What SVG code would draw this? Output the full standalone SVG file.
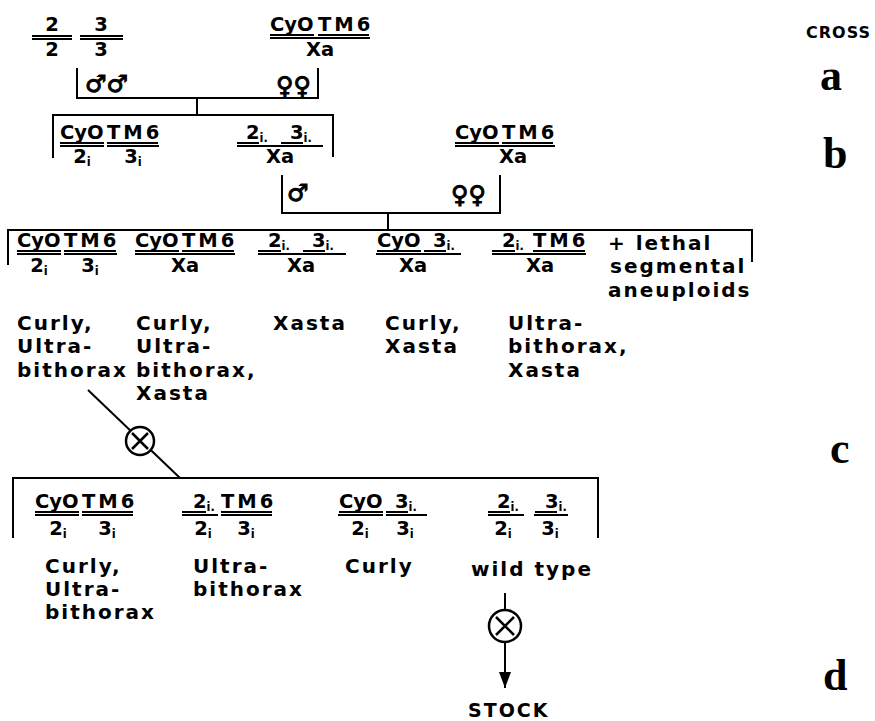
<svg xmlns="http://www.w3.org/2000/svg" width="875" height="721" viewBox="0 0 875 721">
<style>
text{font-family:"DejaVu Sans",sans-serif;font-weight:bold;fill:#000}
.g{font-size:19.5px}
.tm{letter-spacing:3px}
.lb{font-size:20px;letter-spacing:2px}
.sub{font-size:11.5px;letter-spacing:0}
.sym{font-size:24px;stroke:#000;stroke-width:1}
.cr{font-size:16px;letter-spacing:1px}
.big{font-family:"Liberation Serif",serif;font-size:44px}
.ln{stroke:#000;stroke-width:2;fill:none}
.x{stroke:#000;stroke-width:2.5;fill:none}
line{stroke:#000;stroke-width:2}
</style>
<defs>
<marker id="ah" viewBox="0 0 16 12" refX="16" refY="6" markerWidth="16" markerHeight="12" markerUnits="userSpaceOnUse" orient="auto"><path d="M0,0 L16,6 L0,12 z" fill="#000"/></marker>
</defs>

<g id="cross-labels">
<text class="cr" x="806" y="38">CROSS</text>
<text class="big" x="820" y="90">a</text>
<text class="big" x="823" y="168">b</text>
<text class="big" x="830" y="463">c</text>
<text class="big" x="823" y="690">d</text>
</g>

<g id="connectors">
<path class="ln" d="M77,68 V98 H318 V68"/>
<path class="ln" d="M197,98 V115"/>
<path class="ln" d="M53,158 V115 H333 V157"/>
<path class="ln" d="M282,175 V213 H500 V175"/>
<path class="ln" d="M388,213 V230"/>
<path class="ln" d="M8,265 V230 H752 V262"/>
<path class="ln" d="M88,390 L180,478"/>
<path class="ln" d="M13,538 V478 H598 V538"/>
<circle cx="140" cy="441" r="14" fill="#fff" stroke="#000" stroke-width="2.5"/>
<path class="x" d="M132,433 L148,449 M148,433 L132,449"/>
<path class="ln" d="M505,593 V688" marker-end="url(#ah)"/>
<circle cx="505" cy="626" r="16" fill="#fff" stroke="#000" stroke-width="2.5"/>
<path class="x" d="M496,617 L514,635 M514,617 L496,635"/>
</g>

<g id="sex-symbols">
<text class="sym" x="85" y="92">♂♂</text>
<text class="sym" x="276" y="94">♀♀</text>
<text class="sym" x="287" y="201">♂</text>
<text class="sym" x="451" y="203">♀♀</text>
</g>

<!-- Cross a -->
<g id="a-wildtype">
<text class="g" x="52" y="31" text-anchor="middle">2</text>
<line x1="32" y1="36" x2="72" y2="36"/><line x1="32" y1="39" x2="72" y2="39"/>
<text class="g" x="52" y="56" text-anchor="middle">2</text>
<text class="g" x="101" y="31" text-anchor="middle">3</text>
<line x1="80" y1="36" x2="123" y2="36"/><line x1="80" y1="39" x2="123" y2="39"/>
<text class="g" x="101" y="56" text-anchor="middle">3</text>
</g>
<g id="a-balancer">
<text class="g" x="270" y="31">CyO</text><text class="g tm" x="318" y="31">TM6</text>
<line x1="270" y1="35" x2="314" y2="35"/><line x1="318" y1="35" x2="369" y2="35"/>
<line x1="270" y1="38" x2="370" y2="38"/>
<text class="g" x="320" y="56" text-anchor="middle">Xa</text>
</g>

<!-- Cross b -->
<g id="b-g1">
<text class="g" x="60" y="139">CyO</text><text class="g tm" x="107" y="139">TM6</text>
<line x1="60" y1="143" x2="104" y2="143"/><line x1="107" y1="143" x2="158" y2="143"/>
<line x1="60" y1="146" x2="104" y2="146"/><line x1="107" y1="146" x2="159" y2="146"/>
<text class="g" x="82" y="163" text-anchor="middle">2<tspan class="sub" dy="3">i</tspan></text>
<text class="g" x="133" y="163" text-anchor="middle">3<tspan class="sub" dy="3">i</tspan></text>
</g>
<g id="b-g2">
<text class="g" x="246" y="139">2<tspan class="sub" dy="3">i.</tspan></text>
<text class="g" x="290" y="139">3<tspan class="sub" dy="3">i.</tspan></text>
<line x1="237" y1="143" x2="259" y2="143"/><line x1="281" y1="143" x2="303" y2="143"/>
<line x1="237" y1="146" x2="323" y2="146"/>
<text class="g" x="280" y="163" text-anchor="middle">Xa</text>
</g>
<g id="b-g3">
<text class="g" x="455" y="139">CyO</text><text class="g tm" x="502" y="139">TM6</text>
<line x1="455" y1="143" x2="499" y2="143"/><line x1="502" y1="143" x2="553" y2="143"/>
<line x1="455" y1="146" x2="555" y2="146"/>
<text class="g" x="513" y="163" text-anchor="middle">Xa</text>
</g>

<!-- Cross c progeny -->
<g id="c-g1">
<text class="g" x="17" y="247">CyO</text><text class="g tm" x="64" y="247">TM6</text>
<line x1="17" y1="251" x2="61" y2="251"/><line x1="64" y1="251" x2="116" y2="251"/>
<line x1="17" y1="254" x2="61" y2="254"/><line x1="64" y1="254" x2="117" y2="254"/>
<text class="g" x="39" y="272" text-anchor="middle">2<tspan class="sub" dy="3">i</tspan></text>
<text class="g" x="90" y="272" text-anchor="middle">3<tspan class="sub" dy="3">i</tspan></text>
<text class="lb" x="17" y="330">Curly,</text>
<text class="lb" x="17" y="353">Ultra-</text>
<text class="lb" x="17" y="377">bithorax</text>
</g>
<g id="c-g2">
<text class="g" x="135" y="247">CyO</text><text class="g tm" x="182" y="247">TM6</text>
<line x1="135" y1="251" x2="179" y2="251"/><line x1="182" y1="251" x2="234" y2="251"/>
<line x1="135" y1="254" x2="235" y2="254"/>
<text class="g" x="185" y="272" text-anchor="middle">Xa</text>
<text class="lb" x="136" y="330">Curly,</text>
<text class="lb" x="136" y="353">Ultra-</text>
<text class="lb" x="136" y="377">bithorax,</text>
<text class="lb" x="136" y="400">Xasta</text>
</g>
<g id="c-g3">
<text class="g" x="268" y="247">2<tspan class="sub" dy="3">i.</tspan></text>
<text class="g" x="312" y="247">3<tspan class="sub" dy="3">i.</tspan></text>
<line x1="258" y1="251" x2="281" y2="251"/><line x1="303" y1="251" x2="325" y2="251"/>
<line x1="258" y1="254" x2="346" y2="254"/>
<text class="g" x="301" y="272" text-anchor="middle">Xa</text>
<text class="lb" x="273" y="330">Xasta</text>
</g>
<g id="c-g4">
<text class="g" x="377" y="247">CyO</text>
<text class="g" x="433" y="247">3<tspan class="sub" dy="3">i.</tspan></text>
<line x1="377" y1="251" x2="421" y2="251"/><line x1="424" y1="251" x2="446" y2="251"/>
<line x1="376" y1="254" x2="461" y2="254"/>
<text class="g" x="413" y="272" text-anchor="middle">Xa</text>
<text class="lb" x="385" y="330">Curly,</text>
<text class="lb" x="385" y="353">Xasta</text>
</g>
<g id="c-g5">
<text class="g" x="502" y="247">2<tspan class="sub" dy="3">i.</tspan></text>
<text class="g tm" x="533" y="247">TM6</text>
<line x1="492" y1="251" x2="515" y2="251"/><line x1="533" y1="251" x2="585" y2="251"/>
<line x1="492" y1="254" x2="586" y2="254"/>
<text class="g" x="540" y="272" text-anchor="middle">Xa</text>
<text class="lb" x="508" y="330">Ultra-</text>
<text class="lb" x="508" y="353">bithorax,</text>
<text class="lb" x="508" y="377">Xasta</text>
</g>
<g id="c-lethal">
<text class="lb" x="608" y="250">+ lethal</text>
<text class="lb" x="610" y="273">segmental</text>
<text class="lb" x="608" y="297">aneuploids</text>
</g>

<!-- Cross d progeny -->
<g id="d-g1">
<text class="g" x="35" y="508">CyO</text><text class="g tm" x="82" y="508">TM6</text>
<line x1="35" y1="512" x2="79" y2="512"/><line x1="82" y1="512" x2="133" y2="512"/>
<line x1="35" y1="515" x2="79" y2="515"/><line x1="82" y1="515" x2="133" y2="515"/>
<text class="g" x="58" y="535" text-anchor="middle">2<tspan class="sub" dy="3">i</tspan></text>
<text class="g" x="107" y="535" text-anchor="middle">3<tspan class="sub" dy="3">i</tspan></text>
<text class="lb" x="45" y="573">Curly,</text>
<text class="lb" x="45" y="596">Ultra-</text>
<text class="lb" x="45" y="619">bithorax</text>
</g>
<g id="d-g2">
<text class="g" x="193" y="508">2<tspan class="sub" dy="3">i.</tspan></text>
<text class="g tm" x="221" y="508">TM6</text>
<line x1="182" y1="512" x2="206" y2="512"/><line x1="221" y1="512" x2="272" y2="512"/>
<line x1="182" y1="515" x2="218" y2="515"/><line x1="221" y1="515" x2="272" y2="515"/>
<text class="g" x="203" y="535" text-anchor="middle">2<tspan class="sub" dy="3">i</tspan></text>
<text class="g" x="246" y="535" text-anchor="middle">3<tspan class="sub" dy="3">i</tspan></text>
<text class="lb" x="193" y="573">Ultra-</text>
<text class="lb" x="193" y="596">bithorax</text>
</g>
<g id="d-g3">
<text class="g" x="339" y="508">CyO</text>
<text class="g" x="395" y="508">3<tspan class="sub" dy="3">i.</tspan></text>
<line x1="339" y1="512" x2="383" y2="512"/><line x1="386" y1="512" x2="408" y2="512"/>
<line x1="338" y1="515" x2="383" y2="515"/><line x1="386" y1="515" x2="427" y2="515"/>
<text class="g" x="360" y="535" text-anchor="middle">2<tspan class="sub" dy="3">i</tspan></text>
<text class="g" x="405" y="535" text-anchor="middle">3<tspan class="sub" dy="3">i</tspan></text>
<text class="lb" x="345" y="573">Curly</text>
</g>
<g id="d-g4">
<text class="g" x="497" y="508">2<tspan class="sub" dy="3">i.</tspan></text>
<text class="g" x="545" y="508">3<tspan class="sub" dy="3">i.</tspan></text>
<line x1="488" y1="512" x2="510" y2="512"/><line x1="535" y1="512" x2="557" y2="512"/>
<line x1="488" y1="515" x2="524" y2="515"/><line x1="534" y1="515" x2="568" y2="515"/>
<text class="g" x="503" y="535" text-anchor="middle">2<tspan class="sub" dy="3">i</tspan></text>
<text class="g" x="550" y="535" text-anchor="middle">3<tspan class="sub" dy="3">i</tspan></text>
<text class="lb" x="471" y="576">wild type</text>
</g>
<g id="stock">
<text class="lb" x="468" y="717" style="font-size:19px;letter-spacing:2px">STOCK</text>
</g>
</svg>
